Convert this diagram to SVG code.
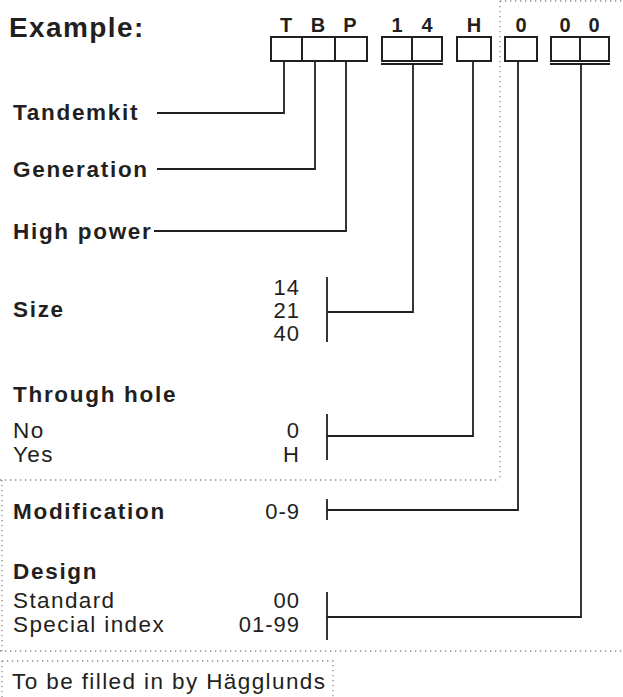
<svg xmlns="http://www.w3.org/2000/svg" width="623" height="697" viewBox="0 0 623 697">
<style>
text{font-family:"Liberation Sans",Arial,sans-serif;fill:#231f20}
.b{font-weight:bold;font-size:22.5px;letter-spacing:1.7px}
.r{font-size:22.5px;letter-spacing:1.4px}
.n{font-size:22px;letter-spacing:1px;text-anchor:end}
.c{font-weight:bold;font-size:20px;text-anchor:middle}
.box{fill:none;stroke:#231f20;stroke-width:2}
.ln{fill:none;stroke:#231f20;stroke-width:1.8}
.dot{fill:none;stroke:#8a8a8a;stroke-width:1.3;stroke-dasharray:1.3 3.7}
</style>
<rect width="623" height="697" fill="#fff"/>
<g id="frames">
<path class="dot" d="M500,1 H623 M500,1 V480 M0,480 H500 M2,480 V651 M0,651 H623 M2,661 H333 V697 M2,661 V697"/>
</g>
<g id="header">
<text class="b" x="9" y="37" style="font-size:28px;letter-spacing:1.4px">Example:</text>
<text class="c" x="286" y="32">T</text>
<text class="c" x="318" y="32">B</text>
<text class="c" x="350" y="32">P</text>
<text class="c" x="397" y="32">1</text>
<text class="c" x="427" y="32">4</text>
<text class="c" x="474" y="32">H</text>
<text class="c" x="521" y="32">0</text>
<text class="c" x="565" y="32">0</text>
<text class="c" x="594" y="32">0</text>
<rect class="box" x="271" y="37" width="96" height="24"/>
<path class="box" d="M302,37 V61 M335,37 V61"/>
<rect class="box" x="382" y="37" width="60" height="24"/>
<path class="box" d="M412,37 V61"/>
<rect class="box" x="457" y="37" width="34" height="24"/>
<rect class="box" x="505" y="37" width="32" height="24"/>
<rect class="box" x="551" y="37" width="58" height="24"/>
<path class="box" d="M580,37 V61"/>
<path class="ln" d="M381,64 H443 M550,64 H610"/>
</g>
<g id="tandemkit"><text class="b" x="13" y="120">Tandemkit</text></g>
<g id="generation"><text class="b" x="13" y="177">Generation</text></g>
<g id="highpower"><text class="b" x="13" y="239">High power</text></g>
<g id="size">
<text class="b" x="13" y="317">Size</text>
<text class="n" x="300" y="295">14</text>
<text class="n" x="300" y="318">21</text>
<text class="n" x="300" y="341">40</text>
</g>
<g id="throughhole">
<text class="b" x="13" y="402">Through hole</text>
<text class="r" x="13" y="438">No</text>
<text class="n" x="300" y="438">0</text>
<text class="r" x="13" y="462">Yes</text>
<text class="n" x="300" y="462">H</text>
</g>
<g id="modification">
<text class="b" x="13" y="519">Modification</text>
<text class="n" x="300" y="519">0-9</text>
</g>
<g id="design">
<text class="b" x="13" y="579">Design</text>
<text class="r" x="13" y="608">Standard</text>
<text class="n" x="300" y="608">00</text>
<text class="r" x="13" y="632">Special index</text>
<text class="n" x="300" y="632">01-99</text>
</g>
<g id="note"><text class="r" x="12" y="689">To be filled in by Hägglunds</text></g>
<g id="connectors">
<path class="ln" d="M157,113 H284 V61"/>
<path class="ln" d="M157,169 H315 V61"/>
<path class="ln" d="M154,231 H346 V61"/>
<path class="ln" d="M327,277 V342 M327,312 H413 V64"/>
<path class="ln" d="M327,414 V460 M327,436 H473 V61"/>
<path class="ln" d="M327,499 V520 M327,510 H518 V61"/>
<path class="ln" d="M327,592 V640 M327,617 H581 V64"/>
</g>
</svg>
